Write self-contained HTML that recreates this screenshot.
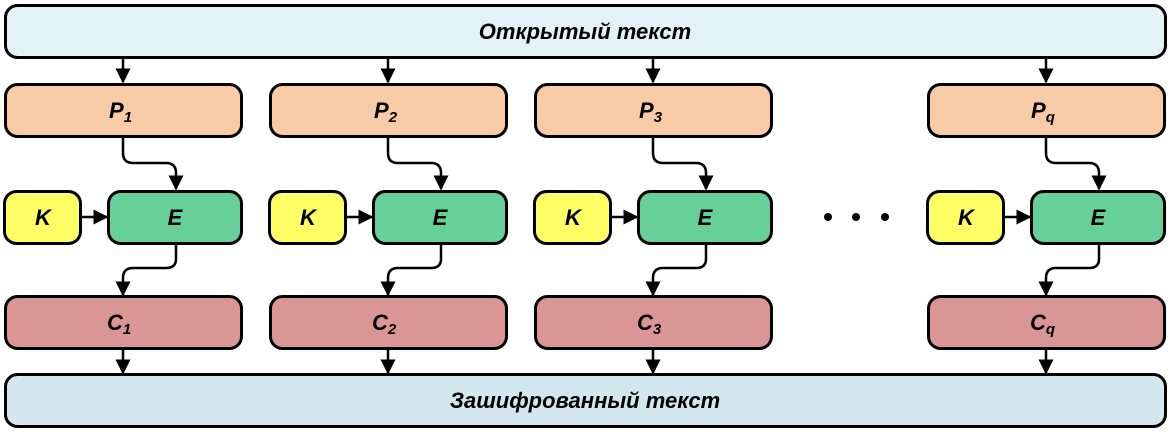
<!DOCTYPE html>
<html><head><meta charset="utf-8"><style>
body{margin:0;background:#fff;}
text{font-family:"Liberation Sans",sans-serif;font-weight:bold;font-style:italic;}
</style></head><body>
<svg width="1171" height="434" viewBox="0 0 1171 434" xmlns="http://www.w3.org/2000/svg">
<defs>
<marker id="a" viewBox="0 0 10 10" refX="9" refY="5" markerWidth="6" markerHeight="6" orient="auto"><path d="M0,0 L10,5 L0,10 z" fill="#000"/></marker>
<g id="col">
<line x1="123" y1="57" x2="123" y2="82" stroke="#000" stroke-width="2.5" marker-end="url(#a)"/>
<rect x="5.5" y="84.5" width="236" height="52" rx="12" fill="#f8cba7" stroke="#000" stroke-width="3"/>
<path d="M123,137 V153 Q123,163 133,163 H166 Q176,163 176,173 V189" fill="none" stroke="#000" stroke-width="2.5" marker-end="url(#a)"/>
<rect x="4.5" y="191.5" width="76" height="52" rx="12" fill="#ffff66" stroke="#000" stroke-width="3"/>
<line x1="81" y1="217" x2="107" y2="217" stroke="#000" stroke-width="2.5" marker-end="url(#a)"/>
<rect x="108.5" y="191.5" width="133" height="52" rx="12" fill="#66d098" stroke="#000" stroke-width="3"/>
<path d="M176,244 V259 Q176,268 166,268 H133 Q123,268 123,278 V295" fill="none" stroke="#000" stroke-width="2.5" marker-end="url(#a)"/>
<rect x="5.5" y="296.5" width="236" height="52" rx="12" fill="#d99694" stroke="#000" stroke-width="3"/>
<line x1="123" y1="349" x2="123" y2="373" stroke="#000" stroke-width="2.5" marker-end="url(#a)"/>
<text x="43" y="225" font-size="22" text-anchor="middle">K</text>
<text x="175" y="225" font-size="22" text-anchor="middle">E</text>
</g>
</defs>
<rect x="5.5" y="5.5" width="1160" height="52" rx="12" fill="#e2f2f7" stroke="#000" stroke-width="3"/>
<rect x="5.5" y="374.5" width="1160" height="52" rx="12" fill="#d2e8ee" stroke="#000" stroke-width="3"/>
<use href="#col"/>
<use href="#col" x="265"/>
<use href="#col" x="530"/>
<use href="#col" x="923"/>
<circle cx="828" cy="217" r="4" fill="#000"/>
<circle cx="856" cy="217" r="4" fill="#000"/>
<circle cx="885" cy="217" r="4" fill="#000"/>
<text x="585" y="39" font-size="22" text-anchor="middle">Открытый текст</text>
<text x="585" y="408" font-size="22" text-anchor="middle">Зашифрованный текст</text>
<g font-size="22">
<text x="109" y="118">P<tspan font-size="15" dy="4">1</tspan></text>
<text x="374" y="118">P<tspan font-size="15" dy="4">2</tspan></text>
<text x="639" y="118">P<tspan font-size="15" dy="4">3</tspan></text>
<text x="1031" y="118">P<tspan font-size="15" dy="4">q</tspan></text>
<text x="107" y="330">C<tspan font-size="15" dy="4">1</tspan></text>
<text x="372" y="330">C<tspan font-size="15" dy="4">2</tspan></text>
<text x="637" y="330">C<tspan font-size="15" dy="4">3</tspan></text>
<text x="1030" y="330">C<tspan font-size="15" dy="4">q</tspan></text>
</g>
</svg>
</body></html>
